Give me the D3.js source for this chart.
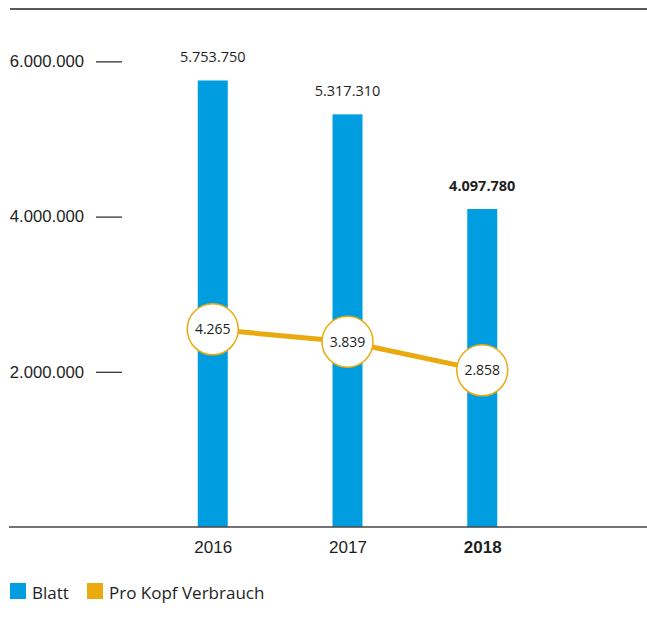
<!DOCTYPE html>
<html>
<head>
<meta charset="utf-8">
<script src="https://cdn.jsdelivr.net/npm/d3@7"></script>
<style>
  html, body { margin: 0; padding: 0; background: #fff; }
  svg { display: block; font-family: "Open Sans", "Noto Sans", sans-serif; }
</style>
</head>
<body>
<svg id="chart" width="647" height="634"></svg>
<script>
// Jahreswerte: Blattverbrauch und Pro-Kopf-Verbrauch
const years = ["2016", "2017", "2018"];
const sheets = [5753750, 5317310, 4097780];
const perCapita = [4265, 3839, 2858];
const yTicks = [2000000, 4000000, 6000000];
const highlightYear = "2018";

const blue = "#009EE0";
const gold = "#E8AA0E";
const ink = "#1e1e1e";

const svg = d3.select("#chart");
const fmt = d3.formatLocale({ decimal: ",", thousands: ".", grouping: [3], currency: ["", "€"] }).format(",d");

const plotTop = 9, plotBase = 527;

const x = d3.scalePoint().domain(["", ...years, " "]).range([78, 617]);
const y = d3.scaleLinear().domain([0, 6675000]).range([plotBase, plotTop]);
const y2 = d3.scaleLinear().domain([0, 6000]).range([453.6, 278.8]);

// Rahmenlinie oben
svg.append("line").attr("x1", 10).attr("x2", 647).attr("y1", plotTop).attr("y2", plotTop)
  .attr("stroke", "#222").attr("stroke-width", 1.3);

// Y-Achse
const yAxis = svg.append("g").attr("transform", "translate(122,0)")
  .call(d3.axisLeft(y).tickValues(yTicks).tickSize(26).tickPadding(12).tickFormat(fmt));
yAxis.select(".domain").remove();
yAxis.selectAll(".tick line").attr("stroke", "#222").attr("stroke-width", 1.2);
yAxis.selectAll(".tick text").attr("fill", ink).style("font-size", "16.7px");

// Balken
const bw = 30;
svg.append("g").selectAll("rect").data(years).join("rect")
  .attr("x", d => x(d) - bw / 2)
  .attr("width", bw)
  .attr("y", (d, i) => y(sheets[i]))
  .attr("height", (d, i) => plotBase - y(sheets[i]))
  .attr("fill", blue);

// Werte über den Balken
svg.append("g").selectAll("text").data(years).join("text")
  .attr("x", d => x(d))
  .attr("y", (d, i) => y(sheets[i]) - 18)
  .attr("text-anchor", "middle")
  .attr("fill", ink)
  .style("font-size", "14.5px")
  .style("font-weight", d => d === highlightYear ? 700 : 400)
  .text((d, i) => fmt(sheets[i]));

// Grundlinie
svg.append("line").attr("x1", 9).attr("x2", 647).attr("y1", plotBase).attr("y2", plotBase)
  .attr("stroke", "#444").attr("stroke-width", 1.3);

// X-Achse
const xAxis = svg.append("g").attr("transform", `translate(0,${plotBase})`)
  .call(d3.axisBottom(x).tickValues(years).tickSize(0).tickPadding(14));
xAxis.select(".domain").remove();
xAxis.selectAll(".tick text").attr("fill", ink).style("font-size", "17px")
  .style("font-weight", d => d === highlightYear ? 700 : 400);

// Linie Pro-Kopf-Verbrauch
const line = d3.line().x((d, i) => x(years[i])).y(d => y2(d));
svg.append("path").datum(perCapita).attr("d", line)
  .attr("fill", "none").attr("stroke", gold).attr("stroke-width", 5);

const pts = svg.append("g").selectAll("g").data(perCapita).join("g")
  .attr("transform", (d, i) => `translate(${x(years[i])},${y2(d)})`);
pts.append("circle").attr("r", 25.5).attr("fill", "#fff")
  .attr("stroke", gold).attr("stroke-width", 1.5);
pts.append("text").attr("text-anchor", "middle").attr("dy", "0.35em")
  .attr("fill", ink).style("font-size", "14px").text(d => fmt(d));

// Legende
const legend = [
  { label: "Blatt", color: blue, x: 10 },
  { label: "Pro Kopf Verbrauch", color: gold, x: 87 }
];
const lg = svg.append("g").selectAll("g").data(legend).join("g")
  .attr("transform", d => `translate(${d.x},583)`);
lg.append("rect").attr("width", 16).attr("height", 16).attr("fill", d => d.color);
lg.append("text").attr("x", 22).attr("y", 16).attr("fill", ink)
  .style("font-size", "17px").text(d => d.label);
</script>
</body>
</html>
